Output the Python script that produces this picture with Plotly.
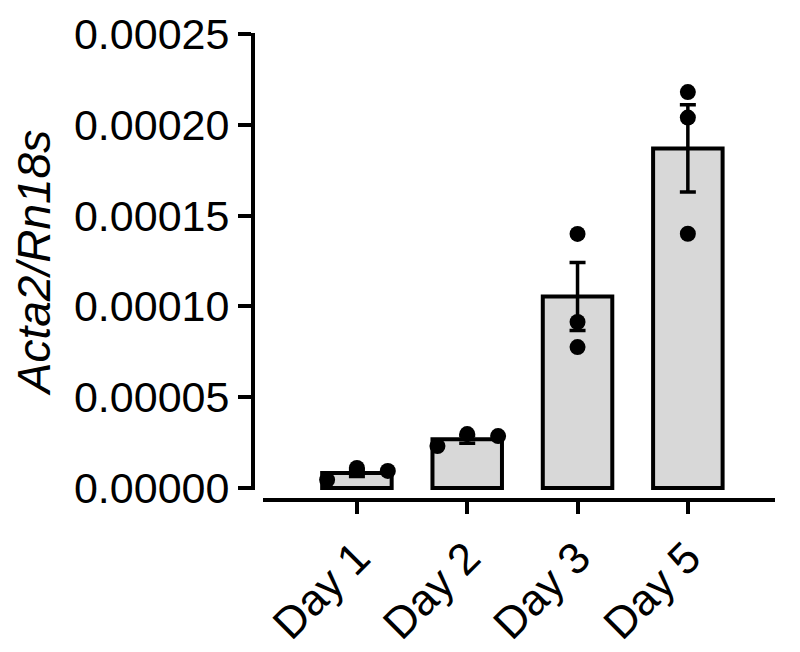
import plotly.graph_objects as go

# data
days = ["Day 1", "Day 2", "Day 3", "Day 5"]
means = [0.0000083, 0.0000268, 0.0001055, 0.0001870]
sems = [0.0000020, 0.0000021, 0.0000187, 0.0000240]
points = [
	[0.0000045, 0.0000110, 0.0000094],
	[0.0000231, 0.0000297, 0.0000286],
	[0.0001399, 0.0000914, 0.0000776],
	[0.0002180, 0.0002040, 0.0001400],
]
# horizontal spread of the dots within each column (category units)
jitter = [
	[-0.27, 0.0, 0.28],
	[-0.27, 0.0, 0.28],
	[0.0, 0.0, 0.0],
	[0.0, 0.0, 0.0],
]
ytick_vals = [0, 0.00005, 0.0001, 0.00015, 0.0002, 0.00025]

font = "Liberation Sans, Arial, sans-serif"
xpos = list(range(len(days)))

fig = go.Figure()
fig.add_trace(go.Bar(
	x=xpos, y=means, width=0.63,
	marker=dict(color="#d8d8d8", line=dict(color="black", width=4)),
	error_y=dict(type="data", array=sems, visible=True,
				 color="black", thickness=3.5, width=8),
	showlegend=False,
))

px_, py_ = [], []
for i, vals in enumerate(points):
	for j, v in enumerate(vals):
		px_.append(i + jitter[i][j])
		py_.append(v)

fig.add_trace(go.Scatter(
	x=px_, y=py_, mode="markers",
	marker=dict(color="black", size=16),
	showlegend=False,
))

# page body has an 8px margin, so the figure is a bit smaller than the window
fig.update_layout(
	width=792, height=644,
	margin=dict(l=245, r=25, t=25, b=152),
	plot_bgcolor="white", paper_bgcolor="white",
	font=dict(family=font, color="black", size=42),
	bargap=0.3,
	xaxis=dict(
		domain=[0.019, 1], range=[-0.852, 3.79],
		anchor="free", position=0, automargin=False,
		tickvals=xpos, ticktext=days, tickangle=-45,
		showline=True, linecolor="black", linewidth=4,
		ticks="outside", ticklen=12, tickwidth=3.5, tickcolor="black",
		showgrid=False, zeroline=False,
		tickfont=dict(size=44),
	),
	yaxis=dict(
		domain=[0.0214, 1], range=[-0.0000011, 0.00025055],
		anchor="free", position=0, automargin=False,
		tickvals=ytick_vals, tickformat=".5f",
		showline=True, linecolor="black", linewidth=4,
		ticks="outside", ticklen=13, tickwidth=3.5, tickcolor="black",
		showgrid=False, zeroline=False,
		tickfont=dict(size=43),
		title=dict(text="<i>Acta2/Rn18s</i>", font=dict(size=46), standoff=14),
	),
)

fig.write_html("out.html")
